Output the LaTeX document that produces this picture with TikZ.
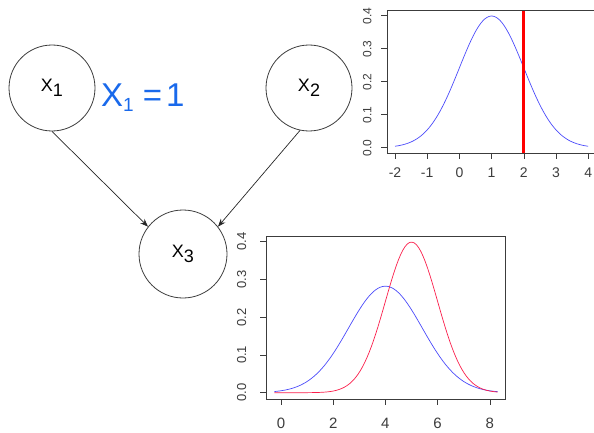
\documentclass[tikz,border=0pt]{standalone}
\usepackage{fontspec}
\setmainfont{Liberation Sans}
\usetikzlibrary{arrows.meta}
\definecolor{gris}{RGB}{60,60,60}
\definecolor{bleuTexte}{RGB}{25,105,235}
\definecolor{bleuCourbe}{RGB}{75,75,250}
\definecolor{rougeCourbe}{RGB}{250,30,75}
\newcommand{\VarX}[1]{X\raisebox{-5pt}{#1}}
\newcommand{\VarXgrand}[1]{X\raisebox{-4.5pt}{\fontsize{19}{19}\selectfont #1}}
\begin{document}
\begin{tikzpicture}[x=1pt,y=1pt]
	% Styles (MODIFIABLES)
	\tikzstyle{noeud}=[circle,draw=gris,line width=0.8pt,minimum size=86pt,inner sep=0pt,font=\fontsize{18}{18}\selectfont]
	\tikzstyle{fleche}=[-{Stealth[length=8pt,width=6pt]},line width=0.7pt,black!85]
	\tikzstyle{commentaire}=[bleuTexte,inner sep=0pt,font=\fontsize{33}{33}\selectfont]
	\tikzstyle{cadre}=[draw=gris,line width=0.6pt]
	\tikzstyle{graduation}=[gris,line width=0.6pt]
	\tikzstyle{courbeBleue}=[bleuCourbe,line width=0.7pt]
	\tikzstyle{courbeRouge}=[rougeCourbe,line width=0.7pt]
	\tikzstyle{ligneRouge}=[red,line width=3pt]
	% Dimensions (MODIFIABLES)
	\def\LargeurImage{594}
	\def\HauteurImage{432}
	\clip (0,0) rectangle (\LargeurImage,\HauteurImage);
	% Noeuds
	\node[noeud] (X1) at (52,344) {\VarX{1}};
	\node[noeud] (X2) at (309,344) {\VarX{2}};
	\node[noeud,minimum size=88pt] (X3) at (183,178) {\VarX{3}};
	\node[commentaire,anchor=base west] (obs) at (101,325.3) {\VarXgrand{1}\hspace{9pt}=\hspace{4pt}1};
	% Arcs
	\draw[fleche] (X1.south) -- (X3.142);
	\draw[fleche] (X2.-102) -- (X3.38);
	% Loi de X1 (en haut)
	\begin{scope}[shift={(459.4pt,284.3pt)},x=32.2pt,y=330pt]
		\draw[cadre] (-2.24,-0.016) rectangle (4.24,0.415);
		\foreach \t in {-2,...,4}
			\draw[graduation] (\t,-0.016) -- ++(0,-6pt)
				node[gris,yshift=-14pt,font=\fontsize{14}{14}\selectfont]{\t};
		\foreach \t in {0,...,4}
			\draw[graduation] (-2.24,\t/10) -- ++(-6pt,0)
				node[gris,xshift=-14pt,rotate=90,font=\fontsize{12}{12}\selectfont]{0.\t};
		\draw[courbeBleue] plot[domain=-2:4,samples=100] (\x,{0.3989*exp(-0.5*(\x-1)*(\x-1))});
		\draw[ligneRouge] (2,-0.016) -- (2,0.415);
	\end{scope}
	% Loi de X3 (en bas)
	\begin{scope}[shift={(281pt,39.3pt)},x=26.1pt,y=377.5pt]
		\draw[cadre] (-0.57,-0.017) rectangle (8.6,0.413);
		\foreach \t in {0,2,...,8}
			\draw[graduation] (\t,-0.017) -- ++(0,-6pt)
				node[gris,yshift=-18.5pt,font=\fontsize{15}{15}\selectfont]{\t};
		\foreach \t in {0,...,4}
			\draw[graduation] (-0.57,\t/10) -- ++(-6pt,0)
				node[gris,xshift=-18.5pt,rotate=90,font=\fontsize{13}{13}\selectfont]{0.\t};
		\draw[courbeBleue] plot[domain=-0.25:8.3,samples=100] (\x,{0.2821*exp(-0.25*(\x-4)*(\x-4))});
		\draw[courbeRouge] plot[domain=-0.25:8.3,samples=100] (\x,{0.3989*exp(-0.5*(\x-5)*(\x-5))});
	\end{scope}
\end{tikzpicture}
\end{document}
